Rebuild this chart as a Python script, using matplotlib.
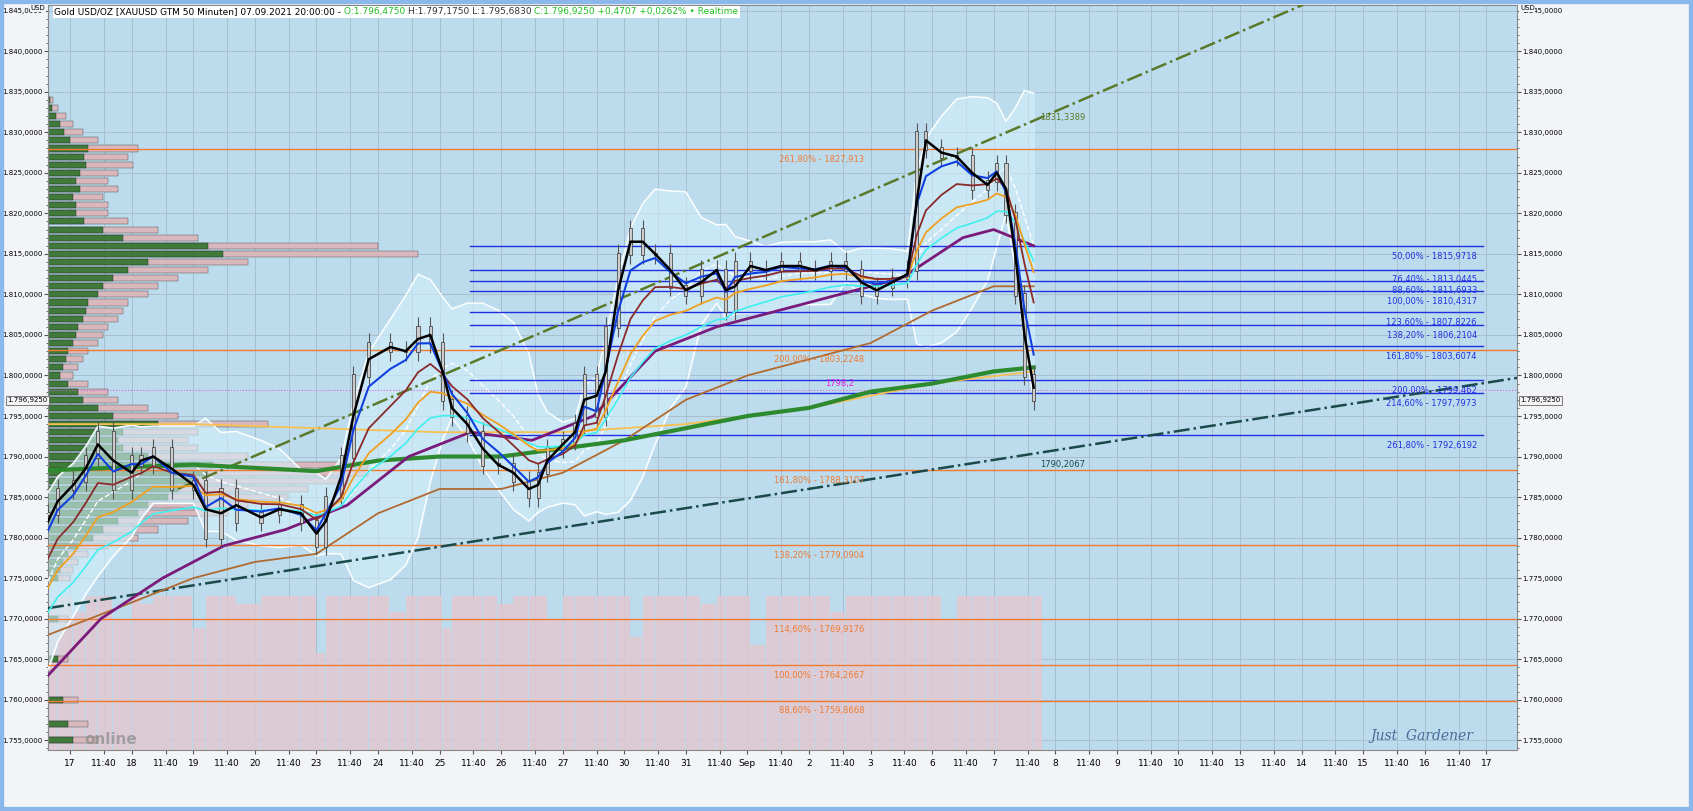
import matplotlib
matplotlib.use("Agg")
import matplotlib.pyplot as plt
import numpy as np
import pandas as pd
from matplotlib.ticker import FuncFormatter, MultipleLocator
from matplotlib import font_manager as fm

names = {f.name for f in fm.fontManager.ttflist}
NARROW = 'Liberation Sans Narrow' if 'Liberation Sans Narrow' in names else 'DejaVu Sans'

# ---------------- data ----------------
day_labels = ['17','18','19','20','23','24','25','26','27','30','31','Sep','2','3','6','7','8','9','10','13','14','15','16','17']
hist_close = [1760, 1764, 1768, 1771, 1774, 1777, 1779, 1781]
t_close = [-0.36,-0.2,0.05,0.25,0.45,0.7,1.0,1.15,1.35,1.65,2.0,2.2,2.45,2.7,3.1,3.4,3.75,4.0,4.15,4.4,4.6,4.85,5.2,5.45,5.65,5.85,6.05,6.2,6.45,6.7,6.95,7.2,7.45,7.6,7.75,8.0,8.2,8.35,8.55,8.7,8.9,9.1,9.3,9.5,9.75,10.0,10.25,10.5,10.65,10.8,11.05,11.3,11.55,11.85,12.1,12.35,12.6,12.85,13.1,13.35,13.6,13.75,13.9,14.15,14.4,14.65,14.9,15.05,15.2,15.35,15.5,15.65]
close   = [1783,1786,1787,1790,1793,1786,1790,1789,1791,1786,1787,1780,1786,1782,1783,1784,1782,1779,1785,1790,1800,1804,1803,1803,1806,1804,1797,1795,1793,1789,1789,1787,1785,1788,1791,1792,1794,1800,1795,1806,1815,1818,1815,1815,1811,1810,1813,1813,1808,1814,1813,1813,1814,1813,1813,1814,1813,1810,1811,1812,1813,1830,1828,1827,1827,1823,1824,1826,1820,1810,1800,1797]
volume  = [18,19,17,19,19,16,19,18,19,19,15,19,19,18,19,19,19,12,19,19,19,19,17,19,19,19,15,19,19,19,18,19,19,19,16,19,19,19,19,19,19,14,19,19,19,19,18,19,19,19,13,19,19,19,19,17,19,19,19,19,19,19,19,16,19,19,19,19,19,19,19,19]

t_slow = [-0.36,0.5,1.5,2.5,3.5,4.5,5.5,6.5,7.5,8.5,9.5,10.5,11.5,12.5,13.5,14.5,15.0,15.65]
purple = [1763,1770,1775,1779,1781,1784,1790,1793,1792,1795,1803,1806,1808,1810,1812,1817,1818,1816]
t_sienna = [-0.36,1,2,3,4,5,6,7,8,9,10,11,12,13,14,15,15.65]
sienna = [1768,1772,1775,1777,1778,1783,1786,1786,1788,1792,1797,1800,1802,1804,1808,1811,1811]
t_green = [-0.36,2,4,5,6,7,8,9,10,11,12,13,14,15,15.65]
green = [1788.3,1789,1788.2,1789.5,1790,1790,1791,1792,1793.5,1795,1796,1798,1799,1800.5,1801]
t_lorange = [-0.36,2,4,6,8,10,12,14,15.65]
lorange = [1794,1794,1793.5,1793,1793,1794,1796,1799,1800.5]

prof_price = list(range(1834, 1774, -1)) + [1770, 1765, 1760, 1757, 1755]
prof_len = [5,10,18,25,35,50,90,80,85,70,60,70,55,60,60,80,110,150,330,370,200,160,130,110,100,80,75,70,60,55,50,40,35,30,25,40,60,70,100,130,220,150,140,150,200,320,320,300,260,240,200,180,140,110,90,60,40,30,25,22,20,20,30,40,50]
prof_green = [2,4,8,12,16,22,40,36,38,32,28,32,25,28,28,36,55,75,160,175,100,80,65,55,50,40,38,35,30,28,25,20,18,15,12,20,30,35,50,65,110,75,70,75,100,165,160,150,130,120,100,90,70,55,45,30,20,15,12,10,10,10,15,20,25]

orange_fib = [(1827.913,'261,80% - 1827,913'),(1803.2,'200,00% - 1803,2248'),(1788.3107,'161,80% - 1788,3107'),
              (1779.0904,'138,20% - 1779,0904'),(1769.9176,'114,60% - 1769,9176'),(1764.2667,'100,00% - 1764,2667'),
              (1759.8668,'88,60% - 1759,8668')]
blue_fib = [(1815.9718,'50,00% - 1815,9718'),(1813.0445,'76,40% - 1813,0445'),(1811.6933,'88,60% - 1811,6933'),
            (1810.4317,'100,00% - 1810,4317'),(1807.8226,'123,60% - 1807,8226'),(1806.2104,'138,20% - 1806,2104'),
            (1803.6074,'161,80% - 1803,6074'),(1799.462,'200,00% - 1799,462'),(1797.7973,'214,60% - 1797,7973'),
            (1792.6192,'261,80% - 1792,6192')]
last_price = 1796.925
# ---------------- figure ----------------
W, H = 1693, 811
fig = plt.figure(figsize=(W/100, H/100), dpi=100, facecolor='#f2f4f7')
fig.patches.append(plt.Rectangle((0,0),1,1,transform=fig.transFigure,fill=False,ec='#8bb8ea',lw=6))
ax = fig.add_axes([48/W, (H-750)/H, (1517-48)/W, 745/H])
ax.set_facecolor('#bcdcee')
x0, x1 = -0.36, 23.5
y0, y1 = 1753.8, 1845.7
ax.set_xlim(x0, x1); ax.set_ylim(y0, y1)
ppx = (x1-x0)/1469.0

for i in range(len(day_labels)):
    ax.axvline(i, color='#a9bfcc', lw=0.7, zorder=0)
    ax.axvline(i+0.55, color='#a9bfcc', lw=0.7, zorder=0)
for p in range(1755, 1846, 5):
    ax.axhline(p, color='#a9bfcc', lw=0.7, zorder=0)

tc = np.array(t_close); cl = np.array(close)
dt = np.diff(np.append(tc, tc[-1]+0.15))
ax.bar(tc, volume, width=dt*0.95, bottom=y0, align='edge', color='#e2c8d0', alpha=0.85, zorder=1)

ax.barh(prof_price, np.array(prof_len)*ppx, left=x0, height=0.75, color='#d9b8bd', ec='#444444', lw=0.3, zorder=2)
ax.barh(prof_price, np.array(prof_green)*ppx, left=x0, height=0.75, color='#3f7a3a', ec='#222222', lw=0.3, zorder=2)

s = pd.Series(hist_close + close)
mid = s.rolling(8, min_periods=1).mean()
sd = s.rolling(8, min_periods=2).std().fillna(3)
n = len(hist_close)
up = (mid + 1.5*sd + 1).values[n:]; lo = (mid - 1.5*sd - 1).values[n:]
ax.fill_between(tc, lo, up, color='#d4f0fa', alpha=0.6, zorder=2)
ax.plot(tc, up, color='white', lw=1, zorder=3); ax.plot(tc, lo, color='white', lw=1, zorder=3)
ax.plot(tc, mid.values[n:], color='white', lw=1, ls='--', zorder=3)

for p, lab in orange_fib:
    ax.axhline(p, color='#f07a30', lw=1, zorder=3)
    ax.text(12.9, p-0.7, lab, color='#f07a30', fontsize=6, ha='right', va='top', zorder=6)
for p, lab in blue_fib:
    ax.plot([6.5, 22.95], [p, p], color='#2030e0', lw=1, zorder=3)
    ax.text(22.85, p-0.7, lab, color='#2030e0', fontsize=6, ha='right', va='top', zorder=6)
ax.axhline(1798.2, color='#e060e0', lw=0.8, ls=':', zorder=3)
ax.text(12.5, 1798.5, '1798,2', color='#e020e0', fontsize=6, ha='center', va='bottom')

ta, pa, tb, pb = 1.75, 1786.0, 15.61, 1831.3
tt = np.array([ta, 23.5]); ax.plot(tt, pa + (tt-ta)*(pb-pa)/(tb-ta), color='#5a7a2a', lw=1.8, ls='-.', zorder=4)
ax.text(15.75, 1831.3, '1831,3389', color='#5a7a2a', fontsize=6, va='bottom')
tt = np.array([x0, x1]); ax.plot(tt, 1771.3 + (tt-x0)*(1799.7-1771.3)/(x1-x0), color='#1a4a4a', lw=1.8, ls='-.', zorder=4)
ax.text(15.75, 1789.6, '1790,2067', color='#1a4a4a', fontsize=6, va='top')

ax.plot(t_lorange, lorange, color='#f8c050', lw=1.3, zorder=4)
ax.plot(t_sienna, sienna, color='#b06a30', lw=1.3, zorder=4)
ax.plot(t_green, green, color='#2e8a2e', lw=3, zorder=5)
ax.plot(t_slow, purple, color='#7a1a7a', lw=2, zorder=5)

prev = np.concatenate([[cl[0]], cl[:-1]])
ax.vlines(tc, np.minimum(prev, cl)-1.2, np.maximum(prev, cl)+1.2, color='#555555', lw=0.8, zorder=5)
ax.bar(tc, np.abs(cl-prev)+0.3, bottom=np.minimum(prev, cl)-0.15, width=0.05, color='#cccccc', ec='#333333', lw=0.5, zorder=5)

for span, col, lw in [(15, '#40f0f0', 1.2), (10, '#f0a020', 1.3), (6, '#8a2a2a', 1.3), (3, '#1040e0', 1.5)]:
    ax.plot(tc, s.ewm(span=span, adjust=False).mean().values[n:], color=col, lw=lw, zorder=6)
ax.plot(tc, s.rolling(2, min_periods=1).mean().values[n:], color='black', lw=1.8, zorder=7)

fmt = FuncFormatter(lambda v, p: f"{v:,.4f}".replace(',', 'X').replace('.', ',').replace('X', '.'))
ax.yaxis.set_major_locator(MultipleLocator(5)); ax.yaxis.set_minor_locator(MultipleLocator(1))
ax.yaxis.set_major_formatter(fmt)
ax.tick_params(axis='y', which='both', left=True, right=True, labelleft=True, labelright=True, labelsize=5, color='#555555', pad=1)
ax.tick_params(axis='y', which='major', length=3); ax.tick_params(axis='y', which='minor', length=1.5)
for lab in ax.get_yticklabels(which='both'):
    lab.set_family(NARROW)
xt, xl = [], []
for i, d in enumerate(day_labels):
    xt.append(i); xl.append(d)
    if i < len(day_labels)-1:
        xt.append(i+0.55); xl.append('11:40')
ax.set_xticks(xt); ax.set_xticklabels(xl, fontsize=6.5, family=NARROW)
ax.tick_params(axis='x', length=3, color='#555555')
for sp in ax.spines.values(): sp.set_color('#888888')

for xx, ha in [(-0.0005, 'right'), (1.002, 'left')]:
    ax.text(xx, last_price, '1.796,9250', transform=ax.get_yaxis_transform(), fontsize=5, family=NARROW, ha=ha, va='center',
            bbox=dict(boxstyle='square,pad=0.2', fc='#f4f4f4', ec='#666666', lw=0.6), zorder=10)
ax.text(-0.002, 1.0, 'USD', transform=ax.transAxes, fontsize=5, ha='right', va='top', family=NARROW,
        bbox=dict(fc='#f2f4f7', ec='none', pad=0.5), zorder=11)
ax.text(1.002, 1.0, 'USD', transform=ax.transAxes, fontsize=5, ha='left', va='top', family=NARROW,
        bbox=dict(fc='#f2f4f7', ec='none', pad=0.5), zorder=11)

hx = 0.004
t1 = ax.text(hx, 0.997, 'Gold USD/OZ [XAUUSD GTM 50 Minuten] 07.09.2021 20:00:00 - ', transform=ax.transAxes,
             fontsize=6.5, family=NARROW, va='top', ha='left', bbox=dict(fc='white', ec='none', pad=1), zorder=10)
fig.canvas.draw()
inv = ax.transAxes.inverted()
xn = inv.transform((t1.get_window_extent().x1, 0))[0]
for txt, col in [('O:1.796,4750 ', '#20c020'), ('H:1.797,1750 L:1.795,6830 ', '#333333'), ('C:1.796,9250 +0,4707 +0,0262% • Realtime', '#20c020')]:
    tx = ax.text(xn, 0.997, txt, transform=ax.transAxes, fontsize=6.5, family=[NARROW, 'DejaVu Sans'], va='top', ha='left', color=col,
                 bbox=dict(fc='white', ec='none', pad=1), zorder=10)
    fig.canvas.draw(); xn = inv.transform((tx.get_window_extent().x1, 0))[0]

ax.text(0.97, 0.01, 'Just  Gardener', transform=ax.transAxes, fontsize=10, style='italic', family='DejaVu Serif',
        color='#4a6a9a', ha='right', va='bottom', zorder=10)
ax.text(0.025, 0.008, 'online', transform=ax.transAxes, fontsize=11, fontweight='bold', color='#8a8a8a', alpha=0.7, zorder=10)

fig.savefig('out.png', dpi=100, facecolor=fig.get_facecolor())
